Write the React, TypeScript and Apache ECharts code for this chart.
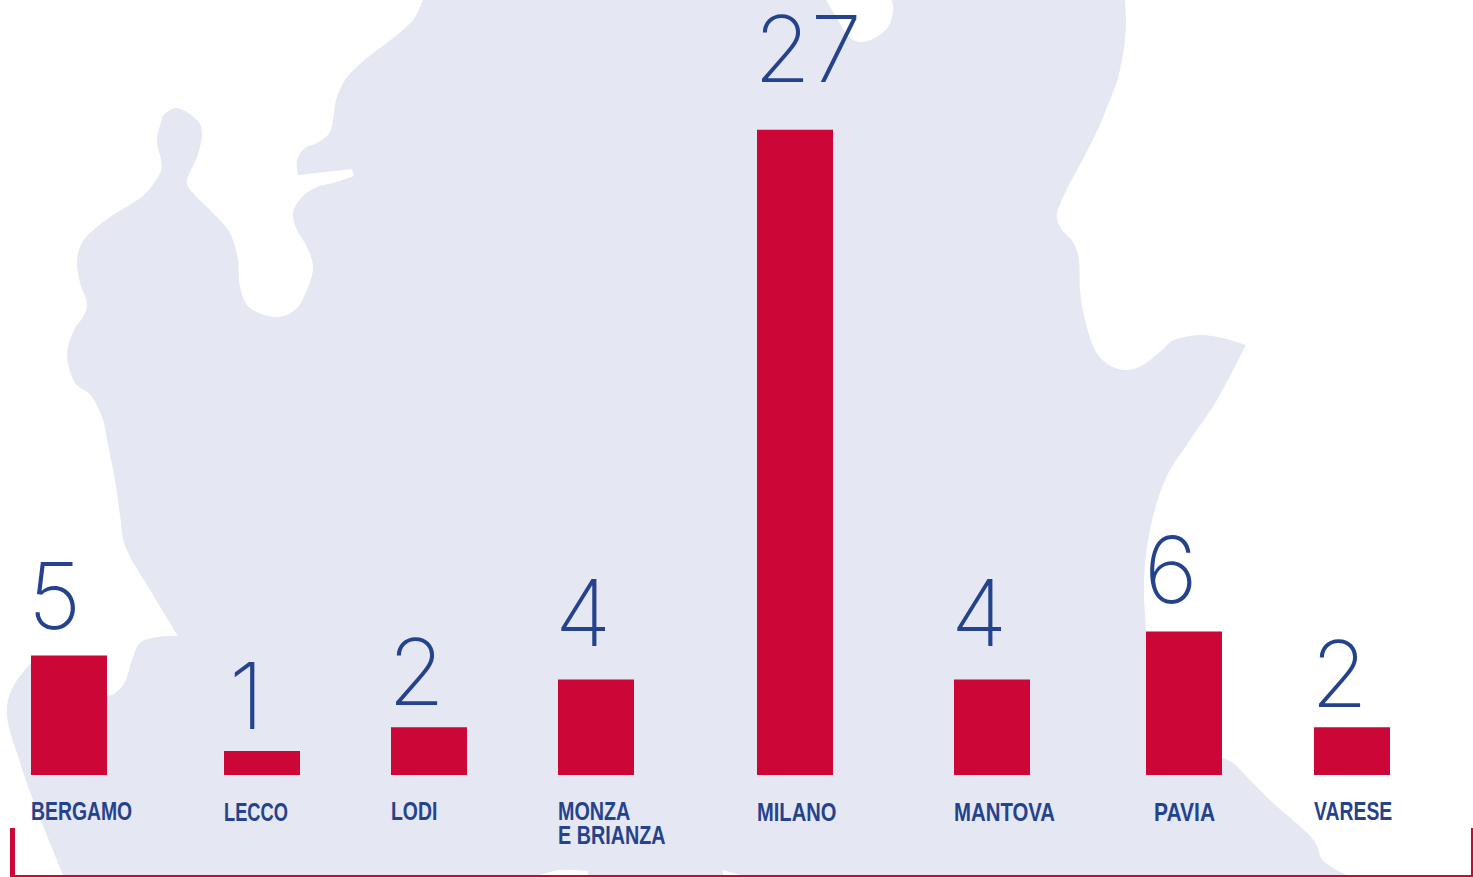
import React, { useEffect, useRef } from "react";
import * as echarts from "echarts";

const provinces = ["BERGAMO", "LECCO", "LODI", "MONZA\nE BRIANZA", "MILANO", "MANTOVA", "PAVIA", "VARESE"];
const companies = [5, 1, 2, 4, 27, 4, 6, 2];

// layout only: the horizontal scale is in page pixels, the slots are unevenly spaced
const slotLeft = [31, 224, 391, 558, 757, 954, 1146, 1314];
const nameDx = [0, 0, 0, 0, 0, 0, 8, 0];
const nameStretch = [0.775, 0.73, 0.775, 0.79, 0.805, 0.815, 0.84, 0.775];
const barW = 76;
const numberDx = [-3, 5, -3, -3, -3, -3, -2, -3];
const numberDy = [-25, -21, -21, -32, -46, -32, -27, -19];

const RED = "#cc0637";
const BLUE = "#25438c";
const MAP = "#e5e8f2";

type P = [number, number];
function smooth(pts: P[]) {
  let d = "";
  for (let i = 0; i < pts.length - 1; i++) {
    const p0 = pts[Math.max(0, i - 1)], p1 = pts[i], p2 = pts[i + 1], p3 = pts[Math.min(pts.length - 1, i + 2)];
    const c1 = [p1[0] + (p2[0] - p0[0]) / 6, p1[1] + (p2[1] - p0[1]) / 6];
    const c2 = [p2[0] - (p3[0] - p1[0]) / 6, p2[1] - (p3[1] - p1[1]) / 6];
    d += `C${c1[0]} ${c1[1]} ${c2[0]} ${c2[1]} ${p2[0]} ${p2[1]}`;
  }
  return d;
}
const runs: P[][] = [
  [[826, 0], [838, 20], [848, 36], [860, 42], [875, 38], [888, 27], [893, 12], [892, 0]],
  [[1125, 0], [1126, 23], [1124, 48], [1118, 78], [1110, 100], [1099, 127], [1085, 155], [1068, 187], [1059, 207], [1057, 218], [1062, 230], [1073, 242], [1079, 260], [1080, 290], [1085, 320], [1095, 350], [1109, 365], [1126, 370], [1143, 365], [1162, 350], [1174, 340], [1199, 335], [1223, 338], [1246, 345]],
  [[1246, 345], [1217, 400], [1190, 440], [1165, 480], [1150, 530], [1144, 580], [1146, 630]],
  [[1222, 758], [1233, 763], [1250, 780], [1273, 803], [1295, 822], [1311, 837], [1318, 848], [1321, 858], [1330, 866], [1346, 875]],
  [[740, 875], [723, 870]],
  [[723, 875], [588, 875]],
  [[588, 871], [560, 870], [540, 875]],
  [[63, 875], [33, 800], [17, 753], [8, 723], [8, 700], [17, 680], [31, 663]],
  [[107, 696], [115, 693], [125, 682], [132, 660], [140, 643], [157, 637], [178, 636]],
  [[178, 636], [150, 590], [126, 548], [120, 515], [115, 480], [108, 445], [103, 420], [94, 400], [87, 392], [75, 383], [68, 363], [68, 347], [75, 328], [83, 317], [87, 303], [80, 283], [77, 263], [80, 247], [90, 233], [113, 215], [133, 203], [147, 192], [160, 173], [161, 160], [157, 140], [163, 115]],
  [[163, 115], [177, 108], [197, 120], [202, 135], [197, 157], [187, 180], [193, 193], [213, 213], [230, 233], [238, 260], [240, 287], [250, 308], [277, 317], [297, 308], [308, 287], [313, 267], [307, 247], [297, 230], [293, 213], [302, 197], [317, 187], [333, 183], [354, 176]],
  [[354, 176], [352, 169]],
  [[298, 175], [297, 160], [305, 148], [317, 143], [330, 132], [334, 113], [337, 97], [347, 77], [367, 58], [393, 38], [413, 20], [423, 0]],
];
function mapPath() {
  let d = "M423 0";
  for (const r of runs) {
    d += `L${r[0][0]} ${r[0][1]}` + smooth(r);
  }
  return d + "Z";
}
echarts.graphic.registerShape("lombardia", echarts.graphic.extendPath(mapPath(), {}));

export default function App() {
  const ref = useRef<HTMLDivElement>(null);
  useEffect(() => {
    const chart = echarts.init(ref.current!, undefined, { renderer: "svg" });
    chart.setOption({
      animation: false,
      backgroundColor: "#fff",
      grid: { left: 0, top: 58, width: 1473, height: 717 },
      graphic: [
        { type: "lombardia", x: 0, y: 0, z: -10, style: { fill: MAP } },
        { type: "rect", z: 1, shape: { x: 10, y: 828, width: 5, height: 49 }, style: { fill: RED } },
        { type: "rect", z: 1, shape: { x: 10, y: 875, width: 1463, height: 2 }, style: { fill: RED } },
        { type: "rect", z: 1, shape: { x: 1471, y: 828, width: 2, height: 49 }, style: { fill: RED } },
        ...provinces.map((name, i) => ({
          type: "text",
          z: 5,
          x: slotLeft[i] + nameDx[i],
          y: 800,
          scaleX: nameStretch[i],
          style: {
            text: name,
            fill: BLUE,
            font: 'bold 25px "Liberation Sans"',
            lineHeight: 24,
            align: "left",
            verticalAlign: "top",
          },
        })),
      ],
      xAxis: { type: "value", min: 0, max: 1473, show: false, splitLine: { show: false } },
      yAxis: { type: "value", min: 0, max: 30, show: false, splitLine: { show: false } },
      series: [
        {
          type: "bar",
          barWidth: barW,
          itemStyle: { color: RED },
          data: companies.map((v, i) => ({
            value: [slotLeft[i] + barW / 2, v],
            label: { position: [numberDx[i], numberDy[i]] },
          })),
          label: {
            show: true,
            formatter: (p: any) => String(p.value[1]),
            align: "left",
            verticalAlign: "bottom",
            color: BLUE,
            fontFamily: "Inter",
            fontWeight: 200,
            fontSize: 92,
            lineHeight: 70,
          },
        },
      ],
    });
    return () => chart.dispose();
  }, []);
  return <div ref={ref} style={{ position: "absolute", left: 0, top: 0, width: 1473, height: 877 }} />;
}
